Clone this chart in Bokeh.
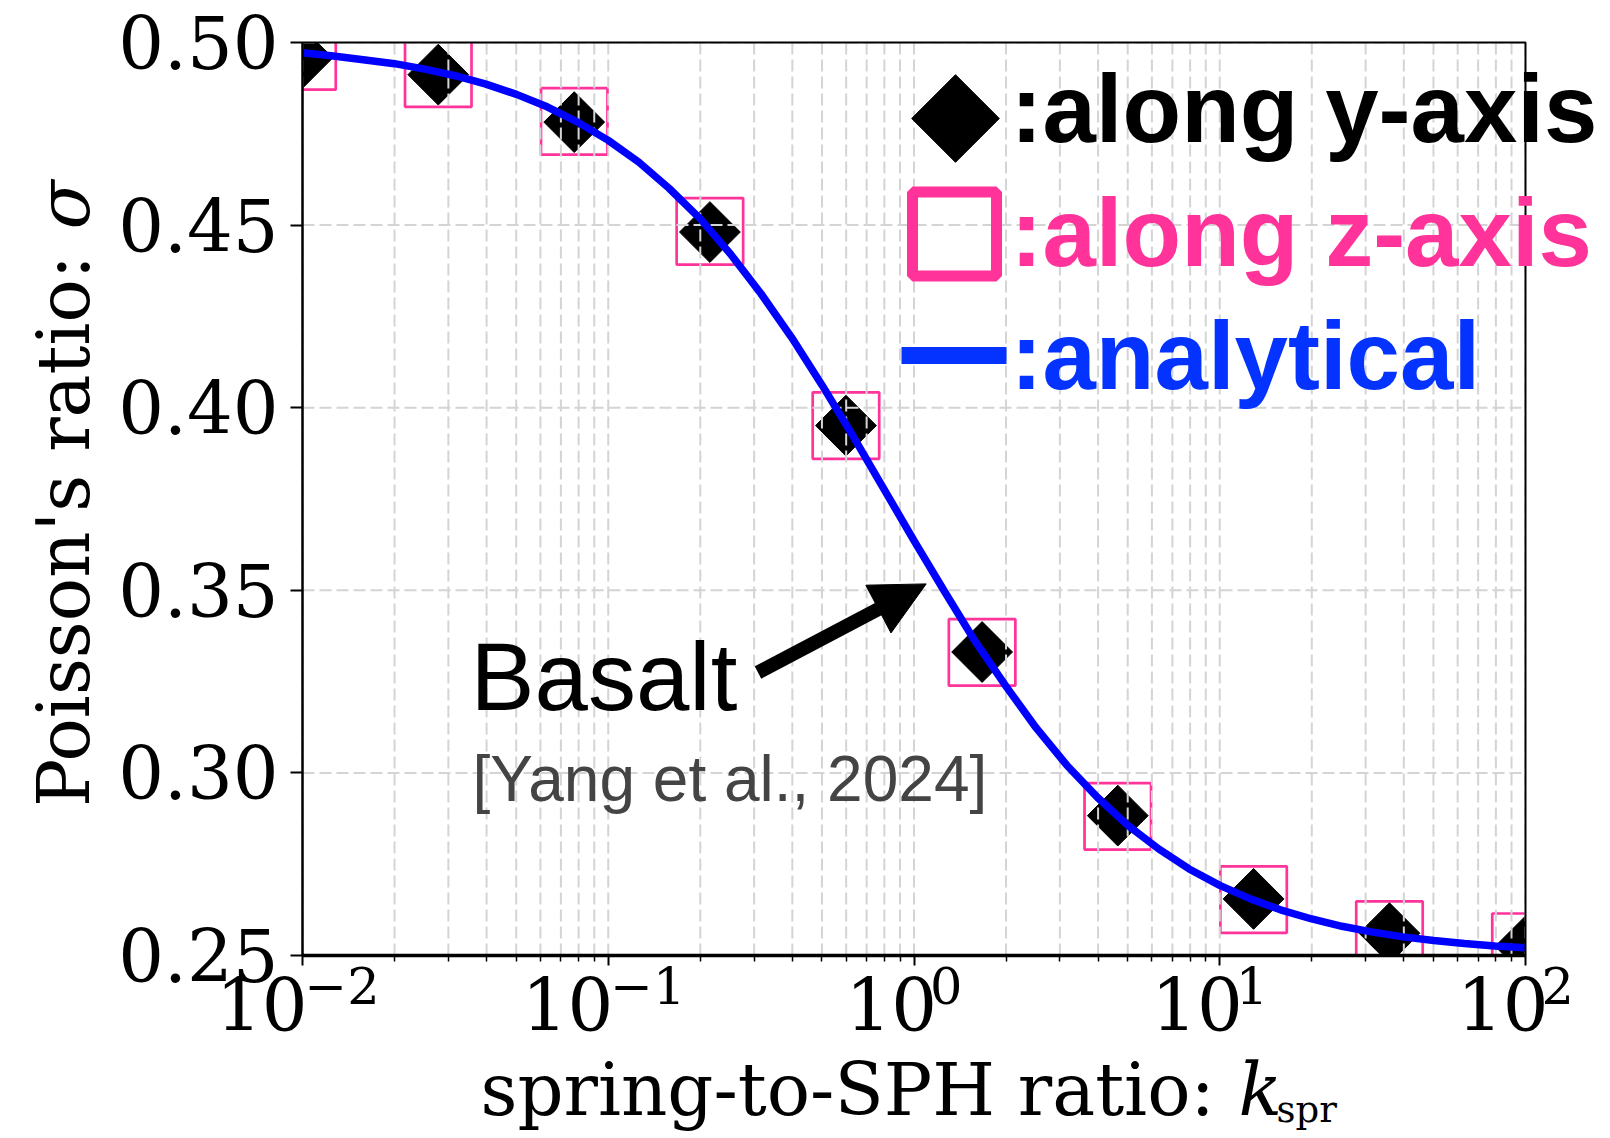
import math
from bokeh.plotting import figure
from bokeh.models import (ColumnDataSource, FixedTicker, PrintfTickFormatter, Label, Arrow,
                          NormalHead, Range1d, LogAxis, LinearAxis, BoxAnnotation, Grid)
from bokeh.embed import file_html
from bokeh.resources import INLINE

# ---------------- data ----------------
k_points = [0.01, 0.0278, 0.0774, 0.215, 0.599, 1.67, 4.64, 12.9, 35.9, 100]
sigma_y_axis = [0.4958, 0.4912, 0.4782, 0.4481, 0.3951, 0.3331, 0.2883, 0.2655, 0.2561, 0.2525]
sigma_z_axis = [0.4962, 0.4915, 0.4784, 0.4483, 0.3951, 0.3330, 0.2881, 0.2653, 0.2557, 0.2524]

k_analytical = [0.01, 0.0126, 0.0158, 0.02, 0.0251, 0.0316, 0.0398, 0.0501, 0.0631, 0.0794,
                0.1, 0.126, 0.158, 0.2, 0.251, 0.316, 0.398, 0.501, 0.631, 0.794,
                1.0, 1.26, 1.58, 2.0, 2.51, 3.16, 3.98, 5.01, 6.31, 7.94,
                10, 12.6, 15.8, 20, 25.1, 31.6, 39.8, 50.1, 63.1, 79.4, 100]
sigma_analytical = [0.4972, 0.4963, 0.4953, 0.4942, 0.4927, 0.4909, 0.4886, 0.4858, 0.4824, 0.4782,
                    0.4732, 0.4672, 0.4601, 0.4517, 0.4421, 0.4312, 0.4192, 0.4061, 0.3923, 0.3780,
                    0.3636, 0.3496, 0.3362, 0.3237, 0.3123, 0.3021, 0.2933, 0.2856, 0.2792, 0.2737,
                    0.2692, 0.2655, 0.2625, 0.2600, 0.2580, 0.2564, 0.2551, 0.2541, 0.2533, 0.2526,
                    0.2521]

y_ticks = [0.25, 0.30, 0.35, 0.40, 0.45, 0.50]
x_major_ticks = [0.01, 0.1, 1, 10, 100]
x_tick_exponents = ["\u22122", "\u22121", "0", "1", "2"]
legend_labels = [":along y-axis", ":along z-axis", ":analytical"]
annotation_title = "Basalt"
annotation_ref = "[Yang et al., 2024]"

PINK = "#FF3399"
BLUE = "#0000FF"
LEG_BLUE = "#0433FF"
GRID = "#d4d4d4"
SERIF = "DejaVu Serif"
SANS = "Liberation Sans"

# ---------------- layout (pixel geometry of the axes box) ----------------
W, H = 1610, 1138
L, R, T, B = 302, 1525, 42, 955
DEC = (R - L) / 4.0


def xd(px):
    return 10 ** (-2 + (px - L) / DEC)


def yd(py):
    return 0.5 - (py - T) / (B - T) * 0.25


p = figure(width=W, height=H, x_axis_type="log", x_axis_location=None, y_axis_location=None,
           x_range=Range1d(xd(0), xd(W)), y_range=Range1d(yd(H), yd(0)),
           output_backend="svg", toolbar_location=None, min_border=0)
p.center = [r for r in p.center if not isinstance(r, Grid)]
p.background_fill_color = "white"
p.border_fill_color = "white"
p.outline_line_color = None

X_LO, X_HI = x_major_ticks[0], x_major_ticks[-1]
Y_LO, Y_HI = y_ticks[0], y_ticks[-1]

# axes (fixed inside the canvas)
minor = [m * 10.0 ** e for e in range(-2, 2) for m in range(2, 10)]
xaxis = LogAxis(fixed_location=Y_LO, bounds=(X_LO, X_HI),
                ticker=FixedTicker(ticks=x_major_ticks, minor_ticks=minor))
xaxis.major_label_text_color = None
xaxis.axis_line_width = 3.5
xaxis.major_tick_out = 10
xaxis.major_tick_in = 0
xaxis.major_tick_line_width = 2
xaxis.minor_tick_out = 6
xaxis.minor_tick_in = 0
xaxis.minor_tick_line_width = 1.5
p.add_layout(xaxis, "below")

yaxis = LinearAxis(fixed_location=X_LO, bounds=(Y_LO, Y_HI), ticker=FixedTicker(ticks=y_ticks),
                   formatter=PrintfTickFormatter(format="%.2f"))
yaxis.major_label_text_font = SERIF
yaxis.major_label_text_font_size = "72px"
yaxis.major_label_text_color = "black"
yaxis.major_label_standoff = 12
yaxis.major_tick_out = 12
yaxis.major_tick_in = 0
yaxis.major_tick_line_width = 2
yaxis.minor_tick_line_color = None
yaxis.axis_line_width = 2
p.add_layout(yaxis, "left")

# data markers (below the grid, as in the reference)
src = ColumnDataSource(dict(k=k_points, sy=sigma_y_axis, sz=sigma_z_axis))
sq = p.scatter("k", "sz", source=src, marker="square", size=66.5, fill_color=None,
               line_color=PINK, line_width=2.7)
dm = p.scatter("k", "sy", source=src, marker="square", angle=math.pi / 4, size=43,
               fill_color="black", line_color="black", line_width=1)
sq.level = "image"
dm.level = "image"

# white masks outside the axes box (clip the edge markers)
for kw in (dict(right=X_LO), dict(left=X_HI), dict(bottom=Y_HI), dict(top=Y_LO)):
    p.add_layout(BoxAnnotation(fill_color="white", fill_alpha=1.0, line_color=None,
                               level="underlay", **kw))

# grid lines
gx = x_major_ticks + minor
gr1 = p.segment(x0=gx, y0=[Y_LO] * len(gx), x1=gx, y1=[Y_HI] * len(gx),
                line_color=GRID, line_width=2, line_dash="12 5")
gr2 = p.segment(x0=[X_LO] * len(y_ticks), y0=y_ticks, x1=[X_HI] * len(y_ticks), y1=y_ticks,
                line_color=GRID, line_width=2, line_dash="12 5")
gr1.level = "underlay"
gr2.level = "underlay"

# analytical curve
p.line(k_analytical, sigma_analytical, line_color=BLUE, line_width=7.5)

# axes box outline
p.add_layout(BoxAnnotation(left=X_LO, right=X_HI, bottom=Y_LO, top=Y_HI, fill_color=None,
                           fill_alpha=0, line_color="black", line_alpha=1.0, line_width=2))

# custom legend
p.scatter([xd(955)], [yd(118)], marker="square", angle=math.pi / 4, size=62,
          fill_color="black", line_color="black")
p.scatter([xd(954)], [yd(233.5)], marker="square", size=84, fill_color=None,
          line_color=PINK, line_width=11)
p.line([xd(901), xd(1006)], [yd(355), yd(355)], line_color=LEG_BLUE, line_width=17)
for txt, col, base in zip(legend_labels, ["black", PINK, LEG_BLUE], [108, 232, 355]):
    p.add_layout(Label(x=xd(1010), y=yd(base), text=txt, text_font=SANS,
                       text_font_style="bold", text_font_size="96px", text_color=col,
                       text_align="left", text_baseline="alphabetic"))

# annotation
p.add_layout(Label(x=xd(470), y=yd(676), text=annotation_title, text_font=SANS,
                   text_font_size="96px", text_color="black",
                   text_align="left", text_baseline="alphabetic"))
p.add_layout(Label(x=xd(472), y=yd(778), text=annotation_ref, text_font=SANS,
                   text_font_size="64px", text_color="#444444",
                   text_align="left", text_baseline="alphabetic"))
p.add_layout(Arrow(x_start=xd(757.5), y_start=yd(672), x_end=xd(925.7), y_end=yd(583.4),
                   line_width=14, line_color="black",
                   end=NormalHead(size=54, fill_color="black", line_color="black", line_width=1)))

# x tick labels 10^n
for t, ex in zip(x_major_ticks, x_tick_exponents):
    neg = ex.startswith("\u2212")
    off10 = 5 if neg else 23
    offe = 2 if neg else 16
    p.add_layout(Label(x=t * 10 ** (off10 / DEC), y=yd(1004), text="10", text_font=SERIF,
                       text_font_size="72px", text_color="black",
                       text_align="right", text_baseline="alphabetic"))
    p.add_layout(Label(x=t * 10 ** (offe / DEC), y=yd(985), text=ex, text_font=SERIF,
                       text_font_size="51px", text_color="black",
                       text_align="left", text_baseline="alphabetic"))

# axis titles
p.add_layout(Label(x=xd(480), y=yd(1089), text="spring-to-SPH ratio:", text_font=SERIF,
                   text_font_size="72px", text_color="black",
                   text_align="left", text_baseline="alphabetic"))
p.add_layout(Label(x=xd(1238), y=yd(1089), text="k", text_font=SERIF, text_font_style="italic",
                   text_font_size="72px", text_color="black",
                   text_align="left", text_baseline="alphabetic"))
p.add_layout(Label(x=xd(1276), y=yd(1109), text="spr", text_font=SERIF,
                   text_font_size="37px", text_color="black",
                   text_align="left", text_baseline="alphabetic"))
p.add_layout(Label(x=xd(63), y=yd(806.5), text="Poisson's ratio:", text_font=SERIF,
                   text_font_size="72px", text_color="black", angle=math.pi / 2,
                   text_align="left", text_baseline="alphabetic"))
p.add_layout(Label(x=xd(63), y=yd(229), text="\u03c3", text_font=SERIF, text_font_style="italic",
                   text_font_size="72px", text_color="black", angle=math.pi / 2,
                   text_align="left", text_baseline="alphabetic"))

open("out.html", "w").write(file_html(p, INLINE))
